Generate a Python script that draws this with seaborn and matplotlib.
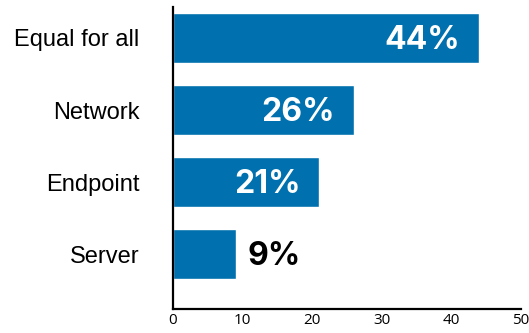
import matplotlib
matplotlib.use("Agg")
import matplotlib.pyplot as plt
import seaborn as sns
import pandas as pd

# Share of respondents by where security should be applied
categories = ["Equal for all", "Network", "Endpoint", "Server"]
values = [44, 26, 21, 9]
labels = ["44%", "26%", "21%", "9%"]
x_ticks = [0, 10, 20, 30, 40, 50]

BLUE = "#0071AE"

sns.set_theme(style="white")
plt.rcParams["font.family"] = ["Liberation Sans", "DejaVu Sans"]

df = pd.DataFrame({"category": categories, "value": values})

fig = plt.figure(figsize=(5.29, 3.33), dpi=100)
ax = fig.add_axes([0.327, 0.072, 0.658, 0.907])

sns.barplot(data=df, x="value", y="category", orient="h", color=BLUE,
            saturation=1, width=0.69, ax=ax)

ax.set_xlim(0, 50)
ax.set_ylim(3.76, -0.43)
ax.set_xticks(x_ticks)
ax.set_xticklabels([str(t) for t in x_ticks], fontsize=11, family=["Open Sans", "DejaVu Sans"])
ax.set_xlabel("")
ax.set_ylabel("")
ax.tick_params(axis="y", length=0, labelsize=17, pad=24, colors="black")
ax.tick_params(axis="x", direction="in", length=5, width=1.5, pad=3, colors="black")

for side in ["top", "right"]:
    ax.spines[side].set_visible(False)
for side in ["left", "bottom"]:
    ax.spines[side].set_color("black")
    ax.spines[side].set_linewidth(1.6)

for i, (v, lab) in enumerate(zip(values, labels)):
    if v >= 15:
        ax.text(v - 2.7, i + 0.03, lab, ha="right", va="center", color="white",
                fontsize=23, fontweight="bold", family=["Inter", "DejaVu Sans"])
    else:
        ax.text(v + 1.7, i + 0.03, lab, ha="left", va="center", color="black",
                fontsize=23, fontweight="bold", family=["Inter", "DejaVu Sans"])

fig.savefig("out.png", dpi=100)
